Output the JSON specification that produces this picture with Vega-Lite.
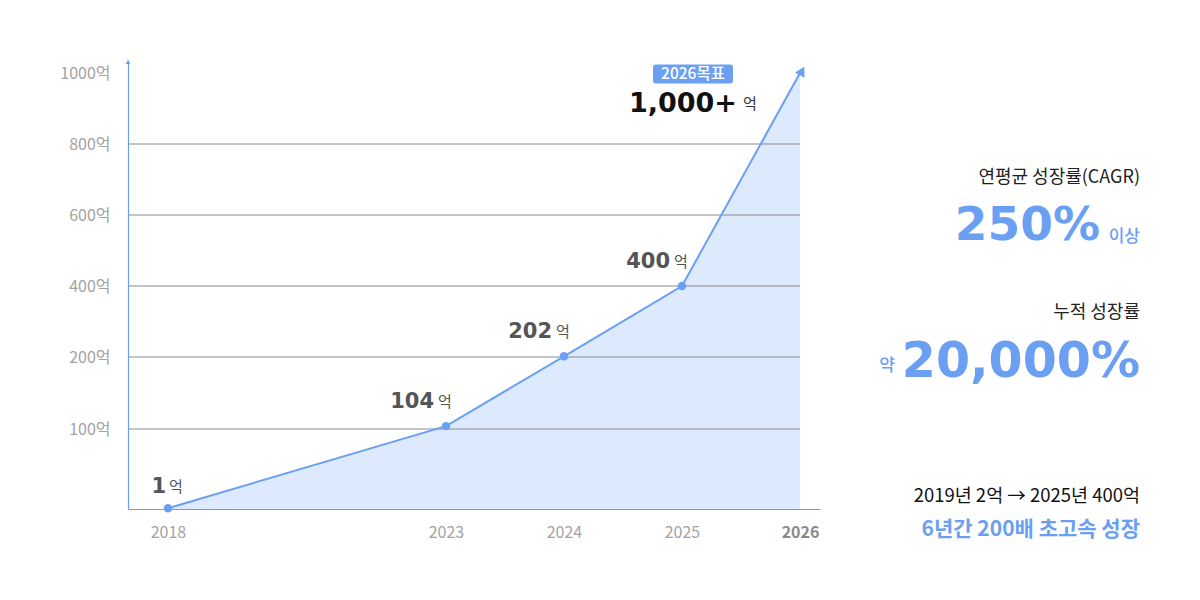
{
  "$schema": "https://vega.github.io/schema/vega-lite/v6.json",
  "autosize": "none",
  "width": 692,
  "height": 449,
  "padding": {"left": 128, "top": 60, "right": 380, "bottom": 91},
  "background": "white",
  "config": {"view": {"stroke": null}, "font": "Noto Sans CJK KR"},
  "layer": [
    {
      "data": {"values": [
        {"year": 2018, "value": 1, "label": "1"},
        {"year": 2023, "value": 104, "label": "104"},
        {"year": 2024, "value": 202, "label": "202"},
        {"year": 2025, "value": 400, "label": "400"},
        {"year": 2026, "value": 1000, "label": "1,000+"}
      ]},
      "layer": [
        {
          "mark": {"type": "area", "color": "#dde9fc"},
          "encoding": {
            "x": {
              "field": "year", "type": "quantitative",
              "scale": {"domain": [2017, 2018, 2023, 2026, 2027], "range": [0, 40, 318, 672, 692], "nice": false, "zero": false},
              "axis": {
                "title": null, "values": [2018, 2023, 2024, 2025, 2026], "format": "d",
                "grid": false, "ticks": false, "domainColor": "#6b9ff2", "domainWidth": 1.2,
                "labelFontSize": 16, "labelPadding": 15, "labelFlush": false, "labelOverlap": false,
                "labelColor": {"condition": {"test": "datum.value == 2026", "value": "#8a8a8a"}, "value": "#a3a3a3"},
                "labelFontWeight": {"condition": {"test": "datum.value == 2026", "value": "bold"}, "value": "normal"},
                "zindex": 1
              }
            },
            "y": {
              "field": "value", "type": "quantitative",
              "scale": {"domain": [0, 100, 200, 400, 600, 800, 1000, 1036], "range": [449, 369, 297, 226, 155, 84, 13, 0], "nice": false, "zero": false},
              "axis": {
                "title": null, "values": [100, 200, 400, 600, 800, 1000], "labelExpr": "datum.value + '억'",
                "grid": false, "ticks": false, "domainColor": "#6b9ff2", "domainWidth": 1.2,
                "labelFontSize": 16, "labelPadding": 18, "labelColor": "#a3a3a3", "zindex": 1
              }
            }
          }
        },
        {
          "data": {"values": [{"grid": 100}, {"grid": 200}, {"grid": 400}, {"grid": 600}, {"grid": 800}]},
          "mark": {"type": "rule", "color": "#8a8a8a", "strokeWidth": 1},
          "encoding": {
            "x": {"datum": 2017},
            "x2": {"datum": 2026},
            "y": {"field": "grid", "type": "quantitative"}
          }
        },
        {
          "mark": {"type": "line", "color": "#6b9ff2", "strokeWidth": 2},
          "encoding": {
            "x": {"field": "year", "type": "quantitative"},
            "y": {"field": "value", "type": "quantitative"}
          }
        },
        {
          "transform": [{"filter": "datum.year < 2026"}],
          "mark": {"type": "point", "filled": true, "color": "#6b9ff2", "size": 72, "opacity": 1},
          "encoding": {
            "x": {"field": "year", "type": "quantitative"},
            "y": {"field": "value", "type": "quantitative"}
          }
        },
        {
          "transform": [{"filter": "datum.year == 2026"}],
          "mark": {"type": "point", "shape": "triangle-up", "filled": true, "color": "#6b9ff2", "size": 120, "angle": 29, "opacity": 1, "xOffset": 2, "yOffset": -2},
          "encoding": {
            "x": {"field": "year", "type": "quantitative"},
            "y": {"field": "value", "type": "quantitative"}
          }
        },
        {
          "data": {"values": [{}]},
          "mark": {"type": "point", "shape": "triangle-up", "filled": true, "color": "#6b9ff2", "size": 22, "opacity": 1, "yOffset": 2},
          "encoding": {
            "x": {"datum": 2017},
            "y": {"datum": 1036}
          }
        },
        {
          "transform": [{"filter": "datum.year >= 2023 && datum.year <= 2025"}],
          "mark": {"type": "text", "align": "right", "baseline": "middle", "dx": -12, "dy": -24, "font": "DejaVu Sans", "fontWeight": "bold", "fontSize": 21, "color": "#555555"},
          "encoding": {
            "x": {"field": "year", "type": "quantitative"},
            "y": {"field": "value", "type": "quantitative"},
            "text": {"field": "label"}
          }
        },
        {
          "transform": [{"filter": "datum.year >= 2023 && datum.year <= 2025"}],
          "mark": {"type": "text", "text": "억", "align": "left", "baseline": "middle", "dx": -8, "dy": -24, "fontSize": 15, "color": "#555555"},
          "encoding": {
            "x": {"field": "year", "type": "quantitative"},
            "y": {"field": "value", "type": "quantitative"}
          }
        },
        {
          "transform": [{"filter": "datum.year == 2018"}],
          "mark": {"type": "text", "align": "right", "baseline": "middle", "dx": -2, "dy": -21, "font": "DejaVu Sans", "fontWeight": "bold", "fontSize": 21, "color": "#555555"},
          "encoding": {
            "x": {"field": "year", "type": "quantitative"},
            "y": {"field": "value", "type": "quantitative"},
            "text": {"field": "label"}
          }
        },
        {
          "transform": [{"filter": "datum.year == 2018"}],
          "mark": {"type": "text", "text": "억", "align": "left", "baseline": "middle", "dx": 1, "dy": -21, "fontSize": 15, "color": "#555555"},
          "encoding": {
            "x": {"field": "year", "type": "quantitative"},
            "y": {"field": "value", "type": "quantitative"}
          }
        },
        {
          "transform": [{"filter": "datum.year == 2026"}],
          "mark": {"type": "text", "align": "right", "baseline": "middle", "dx": -63, "dy": 31, "font": "DejaVu Sans", "fontWeight": "bold", "fontSize": 27, "color": "#111111"},
          "encoding": {
            "x": {"field": "year", "type": "quantitative"},
            "y": {"field": "value", "type": "quantitative"},
            "text": {"field": "label"}
          }
        },
        {
          "transform": [{"filter": "datum.year == 2026"}],
          "mark": {"type": "text", "text": "억", "align": "left", "baseline": "middle", "dx": -57, "dy": 31, "fontSize": 15, "color": "#333333"},
          "encoding": {
            "x": {"field": "year", "type": "quantitative"},
            "y": {"field": "value", "type": "quantitative"}
          }
        },
        {
          "transform": [{"filter": "datum.year == 2026"}],
          "mark": {"type": "point", "shape": "M-0.925,-0.2375L0.925,-0.2375Q1,-0.2375 1,-0.1625L1,0.1625Q1,0.2375 0.925,0.2375L-0.925,0.2375Q-1,0.2375 -1,0.1625L-1,-0.1625Q-1,-0.2375 -0.925,-0.2375Z", "filled": true, "color": "#6b9ff2", "size": 6400, "opacity": 1, "xOffset": -107, "yOffset": 1},
          "encoding": {
            "x": {"field": "year", "type": "quantitative"},
            "y": {"field": "value", "type": "quantitative"}
          }
        },
        {
          "transform": [{"filter": "datum.year == 2026"}],
          "mark": {"type": "text", "text": "2026목표", "align": "center", "baseline": "middle", "dx": -107, "dy": 1, "fontSize": 15.5, "fontWeight": 500, "color": "white"},
          "encoding": {
            "x": {"field": "year", "type": "quantitative"},
            "y": {"field": "value", "type": "quantitative"}
          }
        }
      ]
    },
    {
      "data": {"values": [{}]},
      "layer": [
        {
          "mark": {"type": "text", "text": "연평균 성장률(CAGR)", "align": "right", "baseline": "middle", "fontSize": 18, "color": "#222222"},
          "encoding": {
            "x": {"datum": 1, "scale": {"domain": [0, 1], "range": [672, 1012]}, "axis": null},
            "y": {"datum": 0.2185, "scale": {"domain": [0, 1], "range": [0, 540]}, "axis": null}
          }
        },
        {
          "mark": {"type": "text", "text": "250%", "align": "right", "baseline": "middle", "dx": -40, "font": "DejaVu Sans", "fontWeight": "bold", "fontSize": 47, "color": "#6b9ff2"},
          "encoding": {"x": {"datum": 1}, "y": {"datum": 0.307}}
        },
        {
          "mark": {"type": "text", "text": "이상", "align": "right", "baseline": "middle", "fontSize": 17, "fontWeight": 500, "color": "#6b9ff2"},
          "encoding": {"x": {"datum": 1}, "y": {"datum": 0.328}}
        },
        {
          "mark": {"type": "text", "text": "누적 성장률", "align": "right", "baseline": "middle", "fontSize": 18, "color": "#222222"},
          "encoding": {"x": {"datum": 1}, "y": {"datum": 0.4685}}
        },
        {
          "mark": {"type": "text", "text": "20,000%", "align": "right", "baseline": "middle", "font": "DejaVu Sans", "fontWeight": "bold", "fontSize": 49, "color": "#6b9ff2"},
          "encoding": {"x": {"datum": 1}, "y": {"datum": 0.559}}
        },
        {
          "mark": {"type": "text", "text": "약", "align": "right", "baseline": "middle", "dx": -245, "fontSize": 17, "fontWeight": 500, "color": "#6b9ff2"},
          "encoding": {"x": {"datum": 1}, "y": {"datum": 0.567}}
        },
        {
          "mark": {"type": "text", "text": "2019년 2억 → 2025년 400억", "align": "right", "baseline": "middle", "fontSize": 18.5, "color": "#111111"},
          "encoding": {"x": {"datum": 1}, "y": {"datum": 0.807}}
        },
        {
          "mark": {"type": "text", "text": "6년간 200배 초고속 성장", "align": "right", "baseline": "middle", "fontSize": 21, "fontWeight": "bold", "color": "#6b9ff2"},
          "encoding": {"x": {"datum": 1}, "y": {"datum": 0.87}}
        }
      ]
    }
  ],
  "resolve": {"scale": {"x": "independent", "y": "independent"}}
}
